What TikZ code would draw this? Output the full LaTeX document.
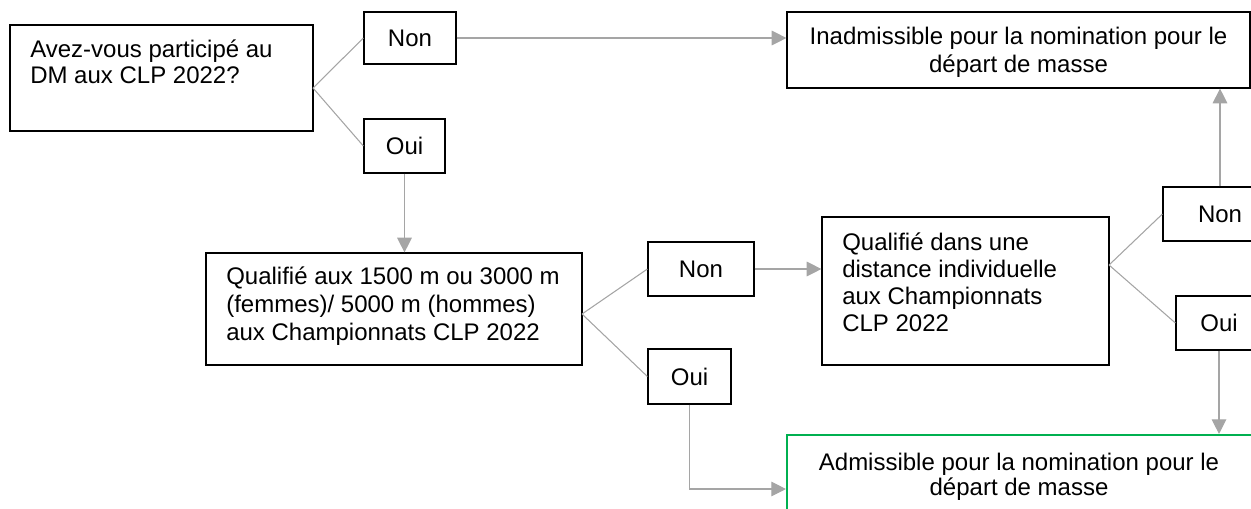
\documentclass[tikz,border=0pt]{standalone}
\usepackage{fontspec}
\setmainfont{Liberation Sans}
\usetikzlibrary{arrows.meta}
\definecolor{conn}{HTML}{A5A5A5}
\definecolor{grn}{HTML}{00B050}
\begin{document}
\begin{tikzpicture}[x=0.75pt,y=-0.75pt,
  box/.style={draw=black, line width=0.9pt, rectangle, inner sep=0pt, font=\fontsize{18}{20}\selectfont},
  okbox/.style={draw=grn, line width=1.6pt, rectangle, inner sep=0pt},
  link/.style={draw=conn, line width=0.8pt},
  arr/.style={link, -{Triangle[length=11pt,width=11pt]}},
  txt/.style={inner sep=0pt, font=\fontsize{18}{20}\selectfont}]
\useasboundingbox (0,0) rectangle (1251,508);
\begin{scope}
\clip (0,0) rectangle (1251,508);
% boxes
\node[box, minimum width=227.25pt, minimum height=79.5pt] (q1) at (161.5,78) {};
\node[box, minimum width=69pt, minimum height=39pt] (n1) at (410,38) {Non};
\node[box, minimum width=60.75pt, minimum height=40.5pt] (o1) at (404.5,146) {Oui};
\node[box, minimum width=347.25pt, minimum height=57pt] (inad) at (1018.5,50) {};
\node[box, minimum width=282pt, minimum height=84pt] (q2) at (394,309) {};
\node[box, minimum width=79.5pt, minimum height=40.5pt] (n2) at (701,269) {Non};
\node[box, minimum width=62.25pt, minimum height=41.25pt] (o2) at (689.5,376.5) {Oui};
\node[box, minimum width=215.25pt, minimum height=111pt] (q3) at (965.5,291) {};
\node[box, minimum width=85.5pt, minimum height=40.5pt] (n3) at (1220,214) {Non};
\node[box, minimum width=64.5pt, minimum height=40.5pt] (o3) at (1219,323) {Oui};
\node[okbox, minimum width=348.75pt, minimum height=81pt] (adm) at (1019.5,489) {};
% texts
\node[txt, anchor=base west] (t1a) at (30,57) {Avez-vous participé au};
\node[txt, anchor=base west] (t1b) at (30,83) {DM aux CLP 2022?};
\node[txt, anchor=base] (tia) at (1018.5,44) {Inadmissible pour la nomination pour le};
\node[txt, anchor=base] (tib) at (1018.5,72) {départ de masse};
\node[txt, anchor=base west] (t2a) at (226,284) {Qualifié aux 1500 m ou 3000 m};
\node[txt, anchor=base west] (t2b) at (226,312) {(femmes)/ 5000 m (hommes)};
\node[txt, anchor=base west] (t2c) at (226,340) {aux Championnats CLP 2022};
\node[txt, anchor=base west] (t3a) at (842,250) {Qualifié dans une};
\node[txt, anchor=base west] (t3b) at (842,277) {distance individuelle};
\node[txt, anchor=base west] (t3c) at (842,304) {aux Championnats};
\node[txt, anchor=base west] (t3d) at (842,331) {CLP 2022};
\node[txt, anchor=base] (taa) at (1019,470) {Admissible pour la nomination pour le};
\node[txt, anchor=base] (tab) at (1019,495) {départ de masse};
% junctions
\coordinate (j1) at (313,88);
\coordinate (j2) at (582,314);
\coordinate (j3) at (1109,265);
% connectors
\draw[link] (j1) -- (n1.west);
\draw[link] (j1) -- (o1.west);
\draw[link] (j2) -- (n2.west);
\draw[link] (j2) -- (o2.west);
\draw[link] (j3) -- (n3.west);
\draw[link] (j3) -- (o3.west);
\draw[arr] (n1.east) -- (n1.east -| inad.west);
\draw[arr] (o1.south) -- (o1.south |- q2.north);
\draw[arr] (n2.east) -- (n2.east -| q3.west);
\draw[arr] (o2.south) |- (adm.west);
\draw[arr] (n3.north) -- (n3.north |- inad.south);
\draw[arr] (o3.south) -- (o3.south |- adm.north);
\end{scope}
\end{tikzpicture}
\end{document}
